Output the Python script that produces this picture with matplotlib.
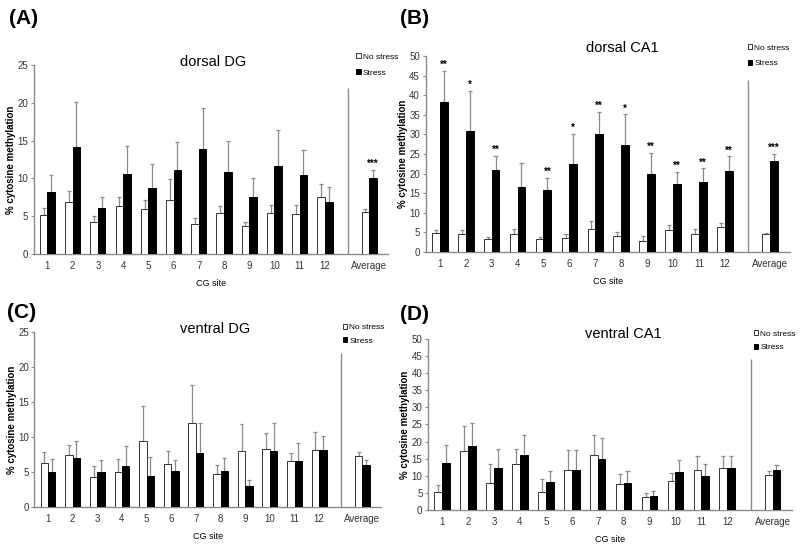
import matplotlib
matplotlib.use("Agg")
import matplotlib.pyplot as plt
import numpy as np

plt.rcParams['font.family'] = ['Liberation Sans Narrow', 'Liberation Sans', 'DejaVu Sans']

sites = ['1', '2', '3', '4', '5', '6', '7', '8', '9', '10', '11', '12', 'Average']

# dorsal DG
dg_d_ns = [5.2, 6.9, 4.3, 6.3, 6.0, 7.2, 4.0, 5.5, 3.7, 5.5, 5.3, 7.5, 5.6]
dg_d_ns_top = [6.1, 8.3, 5.1, 7.6, 7.1, 9.9, 4.8, 6.4, 4.2, 6.5, 6.5, 9.3, 6.0]
dg_d_st = [8.2, 14.1, 6.1, 10.6, 8.8, 11.1, 13.9, 10.8, 7.5, 11.6, 10.5, 6.9, 10.0]
dg_d_st_top = [10.5, 20.1, 7.6, 14.3, 11.9, 14.8, 19.3, 14.9, 10.0, 16.4, 13.8, 8.9, 11.1]
dg_d_stars = ['', '', '', '', '', '', '', '', '', '', '', '', '***']

# dorsal CA1
ca_d_ns = [4.8, 4.6, 3.2, 4.6, 3.2, 3.6, 5.8, 4.2, 2.8, 5.7, 4.6, 6.3, 4.5]
ca_d_ns_top = [5.6, 5.5, 3.8, 5.8, 3.7, 4.6, 7.8, 5.0, 4.0, 6.9, 5.9, 7.5, 4.8]
ca_d_st = [38.3, 30.9, 20.8, 16.7, 15.8, 22.5, 30.2, 27.3, 20.0, 17.3, 17.9, 20.6, 23.1]
ca_d_st_top = [46.3, 41.0, 24.6, 22.7, 18.8, 30.1, 35.7, 35.1, 25.3, 20.4, 21.3, 24.4, 25.0]
ca_d_stars = ['**', '*', '**', '', '**', '*', '**', '*', '**', '**', '**', '**', '***']

# ventral DG
dg_v_ns = [6.3, 7.4, 4.3, 5.0, 9.4, 6.2, 12.0, 4.7, 8.0, 8.3, 6.6, 8.2, 7.3]
dg_v_ns_top = [7.9, 8.9, 5.9, 6.9, 14.4, 8.0, 17.5, 6.0, 11.9, 10.6, 7.8, 10.8, 7.9]
dg_v_st = [5.0, 7.0, 5.0, 5.8, 4.5, 5.2, 7.7, 5.2, 3.0, 8.0, 6.6, 8.1, 6.0]
dg_v_st_top = [6.9, 9.4, 6.8, 8.7, 7.2, 6.7, 12.1, 7.0, 3.9, 12.1, 9.2, 10.2, 6.7]

# ventral CA1
ca_v_ns = [5.3, 17.1, 8.0, 13.5, 5.2, 11.6, 16.2, 7.6, 3.7, 8.6, 11.8, 12.2, 10.1]
ca_v_ns_top = [7.4, 24.6, 13.5, 17.9, 9.0, 17.4, 21.9, 10.5, 4.9, 10.7, 15.8, 15.9, 11.3]
ca_v_st = [13.7, 18.8, 12.4, 16.2, 8.2, 11.7, 15.0, 7.8, 4.0, 11.1, 9.9, 12.4, 11.7]
ca_v_st_top = [19.1, 25.4, 17.8, 21.8, 11.4, 17.6, 21.0, 11.3, 5.5, 14.5, 13.3, 15.9, 13.1]

GRAY = '#8a8a8a'
BOLD = ['Liberation Sans', 'DejaVu Sans']


def panel(rect, letter, letter_xy, title, title_xy, leg, ymax, ns, ns_top, st, st_top, stars=None):
    ax = fig.add_axes(rect)
    x = np.append(np.arange(1, 13), 13.75)
    w = 0.3
    ax.bar(x - w / 2, ns, w, color='white', edgecolor='#333333', linewidth=0.7, zorder=3, label='No stress')
    ax.bar(x + w / 2, st, w, color='black', edgecolor='black', linewidth=0.7, zorder=3, label='Stress')
    for xs, m, t in [(x - w / 2, ns, ns_top), (x + w / 2, st, st_top)]:
        ax.vlines(xs, m, t, color=GRAY, lw=0.9, zorder=2)
        ax.hlines(t, xs - 0.08, xs + 0.08, color=GRAY, lw=0.9, zorder=2)
    if stars:
        for xi, t, s in zip(x + w / 2, st_top, stars):
            if s:
                ax.text(xi, t + ymax * 0.005, s, ha='center', va='bottom', fontsize=7, fontweight='bold')
    ax.vlines(12.9, 0, ymax * 0.88, color=GRAY, lw=1)
    ax.set_xlim(0.45, 14.5)
    ax.set_ylim(0, ymax)
    ax.set_yticks(np.arange(0, ymax + 1, 5))
    ax.set_xticks(x)
    ax.set_xticklabels(sites)
    ax.tick_params(axis='y', length=2, width=0.8, color=GRAY, labelsize=7, labelcolor='#333333', pad=2)
    ax.tick_params(axis='x', length=0, labelsize=7, labelcolor='#333333', pad=5)
    for s in ['top', 'right']:
        ax.spines[s].set_visible(False)
    for s in ['left', 'bottom']:
        ax.spines[s].set_color(GRAY)
        ax.spines[s].set_linewidth(1)
    ax.set_ylabel('% cytosine methylation', family=BOLD, fontsize=7, fontweight='bold', labelpad=1)
    ax.set_xlabel('CG site', fontsize=6.5, labelpad=6)
    ax.text(title_xy[0], title_xy[1], title, transform=ax.transAxes, ha='center', va='center', fontsize=10.5)
    ax.legend(loc='upper left', bbox_to_anchor=(leg[0], leg[1]), frameon=False, fontsize=6,
              handlelength=0.55, handleheight=0.55, handletextpad=0.25, labelspacing=leg[2],
              borderpad=0, borderaxespad=0)
    fig.text(letter_xy[0], letter_xy[1], letter, family=BOLD, fontsize=15, fontweight='bold',
             ha='left', va='center')
    return ax


fig = plt.figure(figsize=(8, 5.49), dpi=100)

panel([0.042, 0.537, 0.443, 0.345], '(A)', (0.011, 0.967), 'dorsal DG', (0.507, 1.016),
      (0.91, 1.06, 1.0), 25, dg_d_ns, dg_d_ns_top, dg_d_st, dg_d_st_top, dg_d_stars)
panel([0.532, 0.541, 0.455, 0.357], '(B)', (0.5, 0.967), 'dorsal CA1', (0.54, 1.04),
      (0.885, 1.06, 1.0), 50, ca_d_ns, ca_d_ns_top, ca_d_st, ca_d_st_top, ca_d_stars)
panel([0.043, 0.0765, 0.433, 0.318], '(C)', (0.009, 0.43), 'ventral DG', (0.523, 1.017),
      (0.89, 1.05, 0.75), 25, dg_v_ns, dg_v_ns_top, dg_v_st, dg_v_st_top)
panel([0.535, 0.071, 0.455, 0.312], '(D)', (0.5, 0.427), 'ventral CA1', (0.536, 1.03),
      (0.895, 1.05, 0.75), 50, ca_v_ns, ca_v_ns_top, ca_v_st, ca_v_st_top)

fig.savefig('out.png', dpi=100)
